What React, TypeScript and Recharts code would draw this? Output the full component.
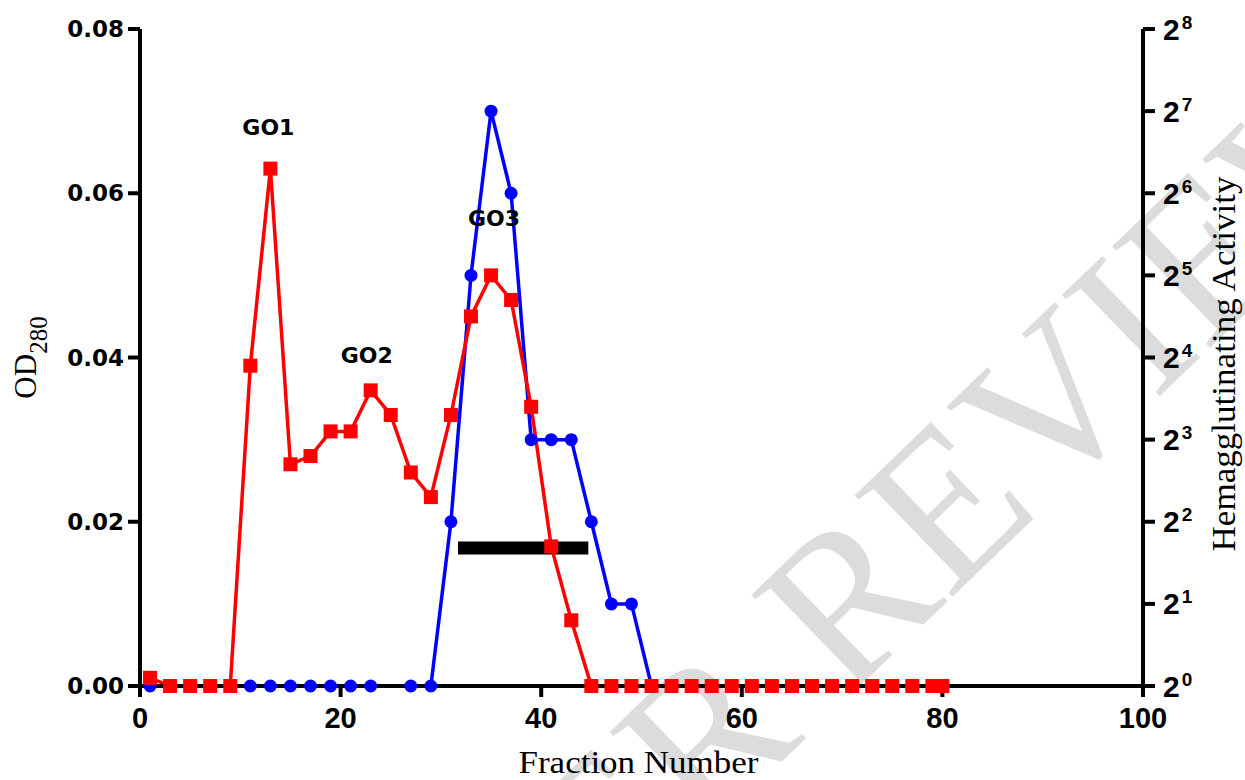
import React from 'react'
import { LineChart, Line, XAxis, YAxis, ReferenceLine, ReferenceDot } from 'recharts'

// OD280 elution profile (red squares)
const odFractions = [1, 3, 5, 7, 9, 11, 13, 15, 17, 19, 21, 23, 25, 27, 29, 31, 33, 35, 37, 39, 41, 43, 45, 47, 49, 51, 53, 55, 57, 59, 61, 63, 65, 67, 69, 71, 73, 75, 77, 79, 80]
const odValues = [0.001, 0, 0, 0, 0, 0.039, 0.063, 0.027, 0.028, 0.031, 0.031, 0.036, 0.033, 0.026, 0.023, 0.033, 0.045, 0.05, 0.047, 0.034, 0.017, 0.008, 0, 0, 0, 0, 0, 0, 0, 0, 0, 0, 0, 0, 0, 0, 0, 0, 0, 0, 0]

// hemagglutinating activity as log2 titre (blue circles)
const haFractions = [1, 3, 5, 7, 9, 11, 13, 15, 17, 19, 21, 23, 27, 29, 31, 33, 35, 37, 39, 41, 43, 45, 47, 49, 51]
const haLog2 = [0, 0, 0, 0, 0, 0, 0, 0, 0, 0, 0, 0, 0, 0, 2, 5, 7, 6, 3, 3, 3, 2, 1, 1, 0]

const xTicks = [0, 20, 40, 60, 80, 100]
const odTicks = [0, 0.02, 0.04, 0.06, 0.08]
const haTicks = [0, 1, 2, 3, 4, 5, 6, 7, 8]

const peakLabels = [
  { name: 'GO1', x: 12.8, y: 0.068 },
  { name: 'GO2', x: 22.6, y: 0.0403 },
  { name: 'GO3', x: 35.3, y: 0.057 },
]
// active pool bar
const poolBar = { from: 31.7, to: 44.7, y: 0.0168 }

const odData = odFractions.map((f, i) => ({ fraction: f, od: odValues[i] }))
const haData = haFractions.map((f, i) => ({ fraction: f, ha: haLog2[i] }))

const sans = '"Liberation Sans", Arial, sans-serif'
const wide = '"DejaVu Sans", Verdana, sans-serif'
const serif = '"Liberation Serif", "Times New Roman", serif'

const leftTickFont = { fontFamily: wide, fontWeight: 'bold', fontSize: 23, fill: '#000' }
const xTickFont = { fontFamily: sans, fontWeight: 'bold', fontSize: 29, fill: '#000' }

const Square = (props: any) => {
  const { cx, cy } = props
  if (cx == null || cy == null) return null
  return <rect x={cx - 7} y={cy - 7} width={14} height={14} fill="#ff0000" />
}

const PowerTick = (props: any) => {
  const { x, y, payload } = props
  return (
    <text x={x} y={y + 10.5} textAnchor="start" fontFamily={sans} fontWeight="bold" fontSize={30} fill="#000">
      2<tspan dx={2} dy={-11} fontSize={19}>{payload.value}</tspan>
    </text>
  )
}

export default function App() {
  return (
    <div style={{ position: 'absolute', left: 0, top: 0, width: 1245, height: 780, background: '#fff', overflow: 'hidden' }}>
      <svg width={1245} height={780} style={{ position: 'absolute', left: 0, top: 0 }}>
        <text x={428} y={1103} transform="rotate(-44 428 1103)" fontFamily={serif} fontSize={215} fill="#dcdcdc">
          PEER REVIEW
        </text>
      </svg>
      <div style={{ position: 'absolute', left: 0, top: 0 }}>
        <LineChart width={1245} height={780} data={odData} margin={{ top: 29, right: 0, bottom: 0, left: 0 }}>
          <XAxis
            dataKey="fraction"
            type="number"
            domain={[0, 100]}
            ticks={xTicks}
            height={94}
            tickSize={11}
            tickMargin={10}
            stroke="#000"
            strokeWidth={4}
            tick={xTickFont}
            label={(p: any) => {
              const vb = p.viewBox
              return (
                <text x={vb.x + vb.width / 2 - 3} y={773} textAnchor="middle" fontFamily={serif} fontSize={32} textLength={240} lengthAdjust="spacingAndGlyphs" fill="#000">
                  Fraction Number
                </text>
              )
            }}
          />
          <YAxis
            yAxisId="od"
            domain={[0, 0.08]}
            ticks={odTicks}
            width={140}
            tickSize={12}
            tickMargin={4}
            stroke="#000"
            strokeWidth={4}
            tick={leftTickFont}
            tickFormatter={(v: number) => v.toFixed(2)}
            label={(p: any) => {
              const vb = p.viewBox
              const cx = 36
              const cy = vb.y + vb.height / 2
              return (
                <text x={cx} y={cy} textAnchor="middle" transform={`rotate(-90 ${cx} ${cy})`} fontFamily={serif} fontSize={31} fill="#000">
                  OD<tspan dy={11} fontSize={25}>280</tspan>
                </text>
              )
            }}
          />
          <YAxis
            yAxisId="ha"
            orientation="right"
            domain={[0, 8]}
            ticks={haTicks}
            width={102}
            tickSize={12}
            tickMargin={8}
            stroke="#000"
            strokeWidth={4}
            tick={<PowerTick />}
            label={() => {
              const cx = 1235
              const cy = 364
              return (
                <text x={cx} y={cy} textAnchor="middle" transform={`rotate(-90 ${cx} ${cy})`} fontFamily={serif} fontSize={34} textLength={375} lengthAdjust="spacingAndGlyphs" fill="#000">
                  Hemagglutinating Activity
                </text>
              )
            }}
          />
          <ReferenceLine
            yAxisId="od"
            segment={[{ x: poolBar.from, y: poolBar.y }, { x: poolBar.to, y: poolBar.y }]}
            stroke="#000"
            strokeWidth={13}
          />
          <Line
            yAxisId="ha"
            data={haData}
            dataKey="ha"
            stroke="#0000ff"
            strokeWidth={3.5}
            dot={{ r: 6.5, fill: '#0000ff', stroke: 'none' }}
            isAnimationActive={false}
          />
          <Line
            yAxisId="od"
            dataKey="od"
            stroke="#ff0000"
            strokeWidth={3.5}
            dot={<Square />}
            isAnimationActive={false}
          />
          {peakLabels.map((p) => (
            <ReferenceDot
              key={p.name}
              yAxisId="od"
              x={p.x}
              y={p.y}
              r={0}
              stroke="none"
              fill="none"
              label={{ value: p.name, position: 'center', fontFamily: wide, fontWeight: 'bold', fontSize: 22, fill: '#000' }}
            />
          ))}
        </LineChart>
      </div>
    </div>
  )
}
